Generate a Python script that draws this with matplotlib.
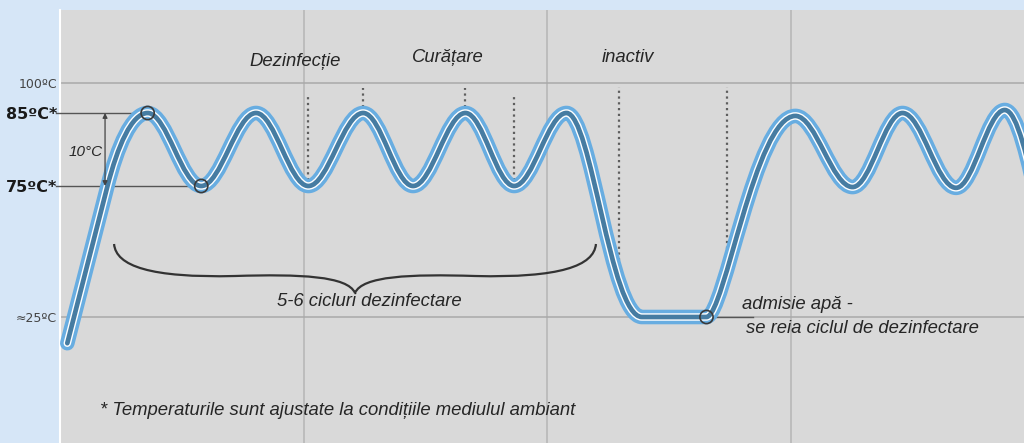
import numpy as np
import matplotlib
matplotlib.use("Agg")
import matplotlib.pyplot as plt
from matplotlib.path import Path
from matplotlib.patches import PathPatch

# turning points of the temperature curve (time units, degrees C)
times = [0.3, 1.95, 3.6, 5.8, 8.05, 10.2, 12.45, 14.5, 16.65, 18.65,
         20.8, 23.9, 26.55, 30.2, 32.55, 34.6, 36.8, 38.8, 41.9]
temps = [15, 75, 85, 75, 85, 75, 85, 75, 85, 75,
         85, 25, 25, 84.6, 74.6, 85, 74.3, 86.5, 25]
# bezier handle lengths (fraction of segment width) out of / into each point
handle_out = [0.0, 0.25, 0.36, 0.36, 0.36, 0.36, 0.36, 0.36, 0.36,
              0.36, 0.33, 0.3, 0.2, 0.36, 0.36, 0.36, 0.36, 0.33]
handle_in = [0.0, 0.4, 0.36, 0.36, 0.36, 0.36, 0.36, 0.36, 0.36,
             0.36, 0.42, 0.3, 0.45, 0.36, 0.36, 0.36, 0.36, 0.42]

marked_points = [2, 3, 12]          # open circles on the curve
phase_marks_t = [10.2, 12.45, 16.65, 18.65, 22.95, 27.4]
phase_marks_lo = [75, 85, 85, 75, 42, 42]
phase_marks_hi = [94, 97.5, 97.5, 94, 98, 98]

ytick_vals = [25, 75, 85, 100]
ytick_text = ["≈25ºC", "75ºC*", "85ºC*", "100ºC"]

# the drawing is not to scale: piecewise linear temperature axis
temp_knots = [-60, 25, 75, 85, 100, 160]
height_knots = [126 - 85 * 2.62, 126, 257, 330, 360, 480]


def fwd(T):
    return np.interp(T, temp_knots, height_knots)


def inv(u):
    return np.interp(u, height_knots, temp_knots)


LIGHT = "#68ade1"
DARK = "#467ca2"
INK = "#262626"

fig = plt.figure(figsize=(10.24, 4.43), dpi=100, facecolor="#d6e6f7")
ax = fig.add_axes([60 / 1024, 0, 964 / 1024, 433 / 443])
ax.set_facecolor("#d9d9d9")
ax.set_yscale("function", functions=(fwd, inv))
ax.set_xlim(0, 964 / 24.35)
ax.set_ylim(inv(0), inv(433))

for s in ["top", "right", "bottom"]:
    ax.spines[s].set_visible(False)
ax.spines["left"].set_color("white")
ax.spines["left"].set_linewidth(1.5)

ax.set_xticks([10, 20, 30])
ax.set_xticklabels([])
ax.tick_params(axis="x", length=0)
ax.grid(axis="x", color="#bdbdbd", linewidth=1.4)
ax.set_axisbelow(True)
for yv in [100, 25]:
    ax.axhline(yv, color="#a9a9a9", linewidth=1.1, zorder=1)

ax.set_yticks(ytick_vals)
ax.set_yticklabels(ytick_text)
ax.tick_params(axis="y", length=0, pad=2)
for lab, txt in zip(ax.get_yticklabels(), ytick_text):
    if "*" in txt:
        lab.set_fontsize(11.5)
        lab.set_fontweight("bold")
        lab.set_color("#1a1a1a")
    else:
        lab.set_fontsize(9)
        lab.set_color("#444444")

# curve path built in the scaled (display-like) space
t = np.array(times, dtype=float)
u = fwd(np.array(temps, dtype=float))
verts = [(t[0], u[0])]
codes = [Path.MOVETO]
for i in range(len(t) - 1):
    dx = t[i + 1] - t[i]
    if i == 0:
        verts.append((t[1], u[1]))
        codes.append(Path.LINETO)
        continue
    if i == 1:
        c1 = (t[1] + handle_out[i] * (t[1] - t[0]), u[1] + handle_out[i] * (u[1] - u[0]))
    else:
        c1 = (t[i] + handle_out[i] * dx, u[i])
    c2 = (t[i + 1] - handle_in[i] * dx, u[i + 1])
    verts += [c1, c2, (t[i + 1], u[i + 1])]
    codes += [Path.CURVE4] * 3
verts = np.array(verts)
verts[:, 1] = inv(verts[:, 1])
curve = Path(verts, codes)

for col, lw, z in [(LIGHT, 10.5, 4), ("white", 5.4, 5), (DARK, 3.4, 6)]:
    ax.add_patch(PathPatch(curve, fill=False, edgecolor=col, linewidth=lw,
                           capstyle="round", joinstyle="round", zorder=z))

# dotted phase markers
ax.vlines(phase_marks_t, phase_marks_lo, phase_marks_hi, colors="#5e5e5e",
          linestyles=(0, (1, 1.6)), linewidth=1.6, zorder=3)

# 85 / 75 guide lines and markers
for i in marked_points[:2]:
    ax.plot([-0.15, times[i]], [temps[i], temps[i]], color="#555555",
            linewidth=1.0, clip_on=False, zorder=3)
ax.plot([times[12], 28.45], [temps[12], temps[12]], color="#555555",
        linewidth=1.0, zorder=3)
ax.scatter([times[i] for i in marked_points], [temps[i] for i in marked_points],
           s=90, facecolors="none", edgecolors="#3a3a3a", linewidths=1.2, zorder=8)

ax.annotate("", xy=(1.85, 75), xytext=(1.85, 85),
            arrowprops=dict(arrowstyle="<|-|>", color="#444444", lw=0.9,
                            mutation_scale=7, shrinkA=0, shrinkB=0), zorder=7)
ax.text(1.75, 79.7, "10°C", ha="right", va="center", fontsize=11,
        style="italic", color=INK, family="Liberation Sans")

# curly brace under the disinfection cycles
b0, b1 = 2.22, 22.01
w = b1 - b0
half = [(0.0, 199), (0.004, 177), (0.075, 165), (0.251, 167),
        (0.386, 169), (0.485, 167), (0.5, 150)]
bx = [b0 + f * w for f, _ in half] + [b0 + (1 - f) * w for f, _ in half[-2::-1]]
bu = [v for _, v in half] + [v for _, v in half[-2::-1]]
bverts = np.column_stack([bx, inv(np.array(bu, dtype=float))])
bcodes = [Path.MOVETO] + [Path.CURVE4] * 12
ax.add_patch(PathPatch(Path(bverts, bcodes), fill=False, edgecolor="#333333",
                       linewidth=1.6, zorder=3))

txt = dict(style="italic", color=INK, family="Liberation Sans", fontsize=13.3)
ax.text(9.65, 110.5, "Dezinfecție", ha="center", va="center", **txt)
ax.text(15.93, 112.5, "Curățare", ha="center", va="center", **txt)
ax.text(23.33, 113, "inactiv", ha="center", va="center", **txt)
ax.text(12.69, 31.1, "5-6 cicluri dezinfectare", ha="center", va="center", **txt)
ax.text(28.0, 29.6, "admisie apă -", ha="left", va="center", **txt)
ax.text(28.17, 20.8, "se reia ciclul de dezinfectare", ha="left", va="center", **txt)
ax.text(1.64, -10.5, "* Temperaturile sunt ajustate la condițiile mediulul ambiant",
        ha="left", va="center", **txt)

fig.savefig("out.png", dpi=100, facecolor=fig.get_facecolor())
